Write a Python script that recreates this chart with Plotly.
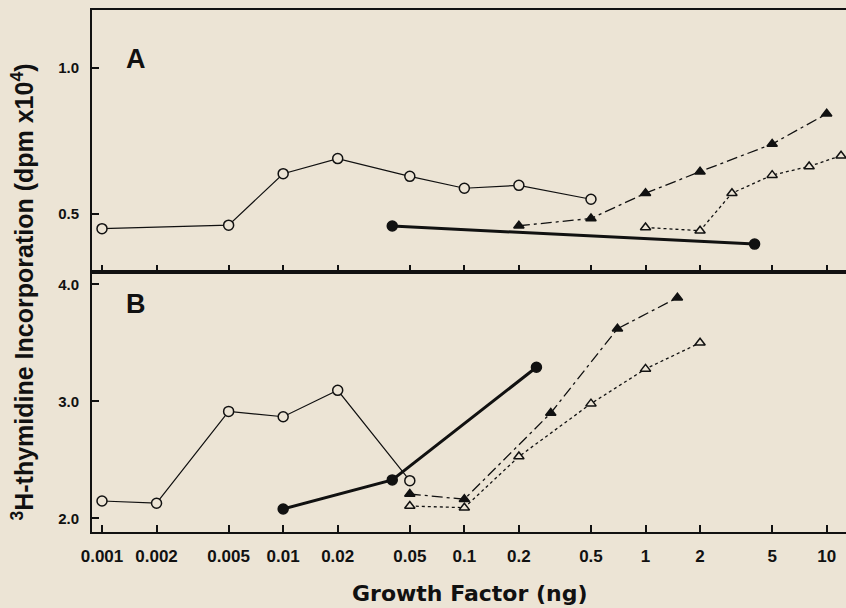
import plotly.graph_objects as go

# ---- data (Growth factor in ng; incorporation in dpm x10^4) ----
a_open_circ_x = [0.001, 0.005, 0.01, 0.02, 0.05, 0.1, 0.2, 0.5]
a_open_circ_y = [0.448, 0.460, 0.637, 0.689, 0.628, 0.587, 0.597, 0.549]
a_fill_circ_x = [0.04, 4]
a_fill_circ_y = [0.457, 0.395]
a_fill_tri_x = [0.2, 0.5, 1, 2, 5, 10]
a_fill_tri_y = [0.458, 0.483, 0.570, 0.644, 0.739, 0.843]
a_open_tri_x = [1, 2, 3, 5, 8, 12]
a_open_tri_y = [0.452, 0.441, 0.570, 0.632, 0.662, 0.699]

b_open_circ_x = [0.001, 0.002, 0.005, 0.01, 0.02, 0.05]
b_open_circ_y = [2.148, 2.129, 2.914, 2.868, 3.094, 2.322]
b_fill_circ_x = [0.01, 0.04, 0.25]
b_fill_circ_y = [2.080, 2.328, 3.291]
b_fill_tri_x = [0.05, 0.1, 0.3, 0.7, 1.5]
b_fill_tri_y = [2.208, 2.163, 2.900, 3.620, 3.886]
b_open_tri_x = [0.05, 0.1, 0.2, 0.5, 1, 2]
b_open_tri_y = [2.105, 2.091, 2.528, 2.980, 3.277, 3.500]

x_tickvals = [0.001, 0.002, 0.005, 0.01, 0.02, 0.05, 0.1, 0.2, 0.5, 1, 2, 5, 10]
x_ticktext = ["0.001", "0.002", "0.005", "0.01", "0.02", "0.05", "0.1", "0.2", "0.5", "1", "2", "5", "10"]
a_yticks = [0.5, 1.0]
a_yticktext = ["0.5", "1.0"]
b_yticks = [2.0, 3.0, 4.0]
b_yticktext = ["2.0", "3.0", "4.0"]

BG = "#ece4d5"
INK = "#111111"
FONT = "Liberation Sans"

fig = go.Figure()

def add_series(x, y, xa, ya, symbol, dash, lw, msize, filled):
    fig.add_trace(go.Scatter(
        x=x, y=y, xaxis=xa, yaxis=ya, mode="lines+markers",
        line=dict(color=INK, width=lw, dash=dash),
        marker=dict(symbol=symbol, size=msize,
                    color=INK if filled else BG,
                    line=dict(color=INK, width=1.5)),
        showlegend=False, hoverinfo="skip", cliponaxis=False))

# Panel A
add_series(a_open_circ_x, a_open_circ_y, "x", "y", "circle", "solid", 1.2, 10, False)
add_series(a_fill_circ_x, a_fill_circ_y, "x", "y", "circle", "solid", 3, 10, True)
add_series(a_fill_tri_x, a_fill_tri_y, "x", "y", "triangle-up", "11px,4px,3px,4px", 1.3, 9, True)
add_series(a_open_tri_x, a_open_tri_y, "x", "y", "triangle-up", "3px,3px", 1.3, 9, False)
# Panel B
add_series(b_open_circ_x, b_open_circ_y, "x2", "y2", "circle", "solid", 1.2, 10, False)
add_series(b_fill_circ_x, b_fill_circ_y, "x2", "y2", "circle", "solid", 3, 10, True)
add_series(b_fill_tri_x, b_fill_tri_y, "x2", "y2", "triangle-up", "11px,4px,3px,4px", 1.3, 9, True)
add_series(b_open_tri_x, b_open_tri_y, "x2", "y2", "triangle-up", "3px,3px", 1.3, 9, False)

xrange = [-3.0552, 1.1066]
split = 0.4987
xtickfont = dict(family=FONT, size=17, color=INK, weight="bold")
ytickfont = dict(family=FONT, size=15, color=INK, weight="bold")

common_x = dict(type="log", range=xrange, showgrid=False, zeroline=False,
                showline=True, linecolor=INK, linewidth=2,
                ticks="inside", ticklen=7, tickwidth=1.5, tickcolor=INK,
                tickvals=x_tickvals, ticktext=x_ticktext, tickfont=xtickfont,
                automargin=False)
common_y = dict(showgrid=False, zeroline=False, showline=True, linecolor=INK,
                linewidth=2, ticks="inside", ticklen=7, tickwidth=1.5,
                tickcolor=INK, tickfont=ytickfont, automargin=False)

fig.update_layout(
    width=846, height=608,
    margin=dict(l=92, r=0, t=10, b=76, autoexpand=False),
    paper_bgcolor=BG, plot_bgcolor=BG,
    xaxis=dict(**common_x, anchor="y", showticklabels=False, mirror=True),
    xaxis2=dict(**common_x, anchor="y2", matches="x", mirror=True, ticklabelstandoff=8),
    yaxis=dict(**common_y, domain=[split, 1], range=[0.3, 1.2],
               tickvals=a_yticks, ticktext=a_yticktext, anchor="x", ticklabelstandoff=8),
    yaxis2=dict(**common_y, domain=[0, split], range=[1.883, 4.108],
                tickvals=b_yticks, ticktext=b_yticktext, anchor="x2", ticklabelstandoff=8),
    annotations=[
        dict(text="A", xref="paper", yref="paper", x=0.043, y=0.938,
             showarrow=False, font=dict(family=FONT, size=27, color=INK, weight="bold")),
        dict(text="B", xref="paper", yref="paper", x=0.043, y=0.437,
             showarrow=False, font=dict(family=FONT, size=27, color=INK, weight="bold")),
        dict(text="Growth Factor (ng)", xref="paper", yref="paper", x=0.5, y=-0.118,
             xanchor="center", yanchor="middle", showarrow=False,
             font=dict(family="DejaVu Sans", size=22, color=INK, weight="bold")),
        dict(text="<sup>3</sup>H-thymidine Incorporation (dpm x10<sup>4</sup>)",
             xref="paper", yref="paper", x=-0.092, y=0.46, textangle=-90,
             xanchor="center", yanchor="middle", showarrow=False,
             font=dict(family=FONT, size=25, color=INK, weight="bold")),
    ],
)

fig.write_html(
    "out.html",
    config={"displayModeBar": False},
    post_script="document.body.style.margin='0';document.body.style.background='%s';" % BG,
)
